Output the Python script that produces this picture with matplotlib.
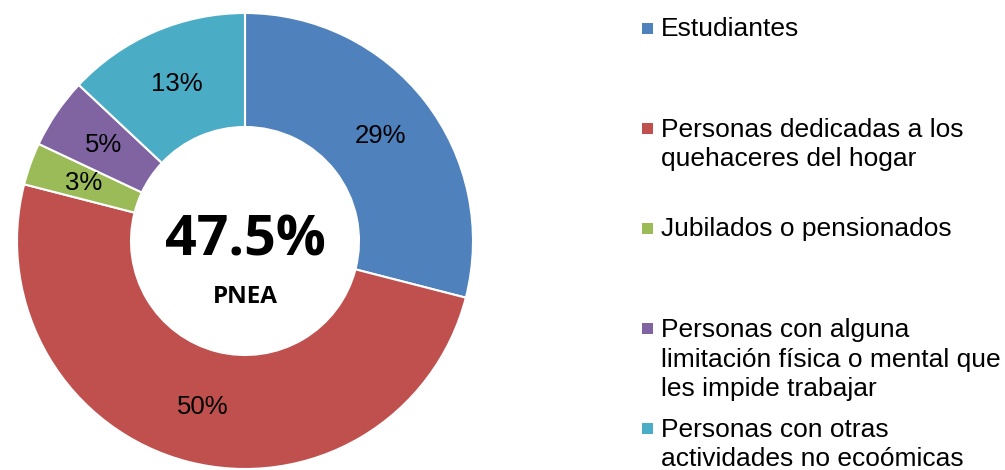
import matplotlib
matplotlib.use("Agg")
import matplotlib.pyplot as plt
from matplotlib.patches import Rectangle

# datos
categorias = [
    "Estudiantes",
    "Personas dedicadas a los\nquehaceres del hogar",
    "Jubilados o pensionados",
    "Personas con alguna\nlimitación física o mental que\nles impide trabajar",
    "Personas con otras\nactividades no ecoómicas",
]
porcentajes = [29, 50, 3, 5, 13]
colores = ["#4F81BD", "#C0504D", "#9BBB59", "#8064A2", "#4BACC6"]
total_pnea = "47.5%"

W, H = 1005, 470
fig = plt.figure(figsize=(W / 100, H / 100), dpi=100)

# area de la dona (en pixeles)
cx, cy, R = 245, 241, 228
ax = fig.add_axes([(cx - R) / W, (H - cy - R) / H, 2 * R / W, 2 * R / H])

wedges, texts, autotexts = ax.pie(
    porcentajes, colors=colores, startangle=90, counterclock=False,
    autopct="%d%%", pctdistance=0.75,
    wedgeprops=dict(width=0.5, edgecolor="white", linewidth=1.5),
    textprops=dict(fontsize=18.5, family="Liberation Sans", color="black"),
)
ax.set_xlim(-1, 1)
ax.set_ylim(-1, 1)
ax.set_aspect("auto")
ax.axis("off")

ax.text(0, 0, total_pnea, ha="center", va="center", fontsize=40,
        fontweight="bold", family="Open Sans")
ax.text(0, -0.245, "PNEA", ha="center", va="center", fontsize=17.5,
        fontweight="bold", family="Open Sans")

# leyenda manual (cuadro alineado con la primera linea)
for i, (lab, col) in enumerate(zip(categorias, colores)):
    ym = 28 + 100 * i
    n = lab.count("\n")
    fig.patches.append(Rectangle((642 / W, (H - ym - 5.5) / H), 11 / W, 11 / H,
                                 transform=fig.transFigure, facecolor=col,
                                 edgecolor="none"))
    fig.text(661 / W, (H - ym - 8 - 30 * n) / H, lab, ha="left", va="baseline",
             fontsize=19, family="Liberation Sans", linespacing=1.28)

fig.savefig("out.png", dpi=100)
